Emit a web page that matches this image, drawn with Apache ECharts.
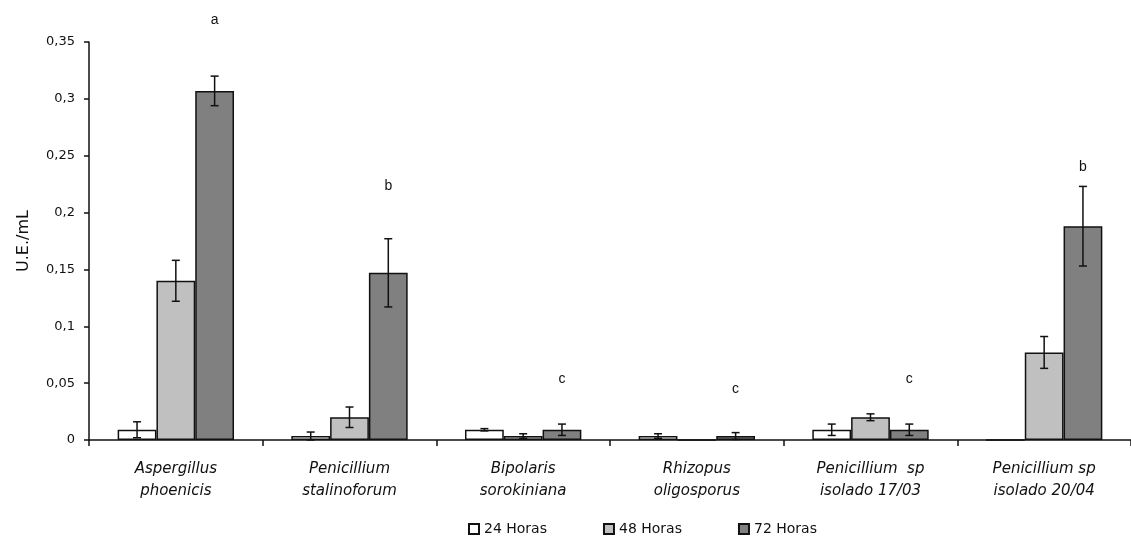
<!DOCTYPE html>
<html>
<head>
<meta charset="utf-8">
<script src="https://cdn.jsdelivr.net/npm/echarts@6/dist/echarts.min.js"></script>
<style>html,body{margin:0;padding:0;background:#fff;overflow:hidden;}#main{width:1131px;height:537px;}</style>
</head>
<body>
<div id="main"></div>
<script>
const categories = ['Aspergillus\nphoenicis','Penicillium\nstalinoforum','Bipolaris\nsorokiniana','Rhizopus\noligosporus','Penicillium  sp\nisolado 17/03','Penicillium sp\nisolado 20/04'];
const seriesNames = ['24 Horas','48 Horas','72 Horas'];
const h24 = [0.009, 0.0035, 0.009, 0.0035, 0.009, 0];
const h48 = [0.14, 0.02, 0.0035, 0, 0.02, 0.077];
const h72 = [0.307, 0.147, 0.009, 0.0035, 0.009, 0.188];
const e24 = [0.007, 0.0035, 0.001, 0.002, 0.005, 0];
const e48 = [0.018, 0.009, 0.002, 0, 0.003, 0.014];
const e72 = [0.013, 0.03, 0.005, 0.003, 0.005, 0.035];
const letters = ['a','b','c','c','c','b'];
const letterHeights = [0.369, 0.2234, 0.0537, 0.0449, 0.0537, 0.240];
const yTickLabels = ['0','0,05','0,1','0,15','0,2','0,25','0,3','0,35'];

const colors = ['#FFFFFF','#C0C0C0','#808080'];
const values = [h24, h48, h72];
const errs = [e24, e48, e72];
const GAP = 0.33;

const chart = echarts.init(document.getElementById('main'));
const barSeries = seriesNames.map((n, i) => ({
  name: n, type: 'bar', data: values[i], barGap: '0%', barCategoryGap: (GAP*100)+'%',
  itemStyle: {color: colors[i], borderColor: '#111', borderWidth: 1.5},
  emphasis: {disabled: true}
}));
const errSeries = seriesNames.map((n, i) => ({
  type: 'custom', z: 5, silent: true,
  data: values[i].map((v, k) => [k, v, errs[i][k]]),
  renderItem: function (params, api) {
    const e = api.value(2);
    if (!e) return null;
    const k = api.value(0), v = api.value(1);
    const bw = api.size([1, 0])[0] * (1 - GAP) / 3;
    const c = api.coord([k, v]);
    const x = c[0] + (i - 1) * bw;
    const hi = api.coord([k, v + e])[1];
    const lo = api.coord([k, Math.max(v - e, 0)])[1];
    const cap = 4;
    const st = {stroke: '#111', lineWidth: 1.5};
    return {type: 'group', children: [
      {type: 'line', shape: {x1: x, y1: hi, x2: x, y2: lo}, style: st},
      {type: 'line', shape: {x1: x - cap, y1: hi, x2: x + cap, y2: hi}, style: st},
      {type: 'line', shape: {x1: x - cap, y1: lo, x2: x + cap, y2: lo}, style: st}
    ]};
  }
}));
const letterSeries = {
  type: 'custom', z: 6, silent: true,
  data: letterHeights.map((h, k) => [k, h]),
  renderItem: function (params, api) {
    const k = api.value(0);
    const bw = api.size([1, 0])[0] * (1 - GAP) / 3;
    const c = api.coord([k, api.value(1)]);
    return {type: 'text', x: c[0] + bw, y: c[1],
      style: {text: letters[params.dataIndex], fill: '#111', font: '14px "Liberation Sans", Arial, sans-serif', align: 'center', verticalAlign: 'middle'}};
  }
};

chart.setOption({
  animation: false,
  backgroundColor: '#fff',
  grid: {left: 89, width: 1050, top: 42, bottom: 97, containLabel: false},
  legend: {
    data: seriesNames, top: 522, left: 468, padding: 0, itemWidth: 10, itemHeight: 10, itemGap: 56,
    icon: 'rect',
    textStyle: {fontFamily: 'DejaVu Sans, sans-serif', fontSize: 14, color: '#111'}
  },
  xAxis: {
    type: 'category', data: categories,
    axisLine: {lineStyle: {color: '#111', width: 1.5}},
    axisTick: {show: true, length: 6, lineStyle: {color: '#111', width: 1.5}},
    axisLabel: {interval: 0, margin: 18, fontFamily: 'DejaVu Sans, sans-serif', fontStyle: 'italic', fontSize: 15, color: '#111', lineHeight: 22}
  },
  yAxis: {
    type: 'value', min: 0, max: 0.35, interval: 0.05,
    name: 'U.E./mL', nameLocation: 'middle', nameGap: 57, nameRotate: 90,
    nameTextStyle: {fontFamily: 'DejaVu Sans, sans-serif', fontSize: 16, color: '#111'},
    axisLine: {show: true, lineStyle: {color: '#111', width: 1.5}},
    axisTick: {show: true, length: 5, lineStyle: {color: '#111', width: 1.5}},
    splitLine: {show: false},
    axisLabel: {margin: 14, fontFamily: 'DejaVu Sans, sans-serif', fontSize: 13, color: '#111',
      formatter: v => yTickLabels[Math.round(v / 0.05)]}
  },
  series: [...barSeries, ...errSeries, letterSeries]
});
</script>
</body>
</html>
